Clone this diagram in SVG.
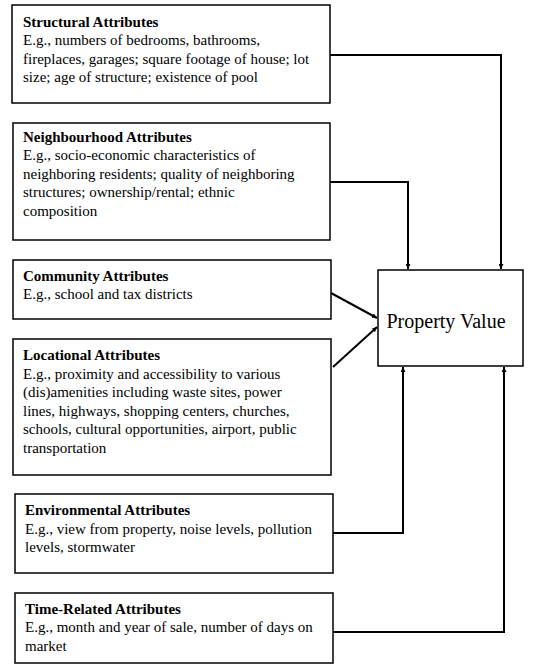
<svg xmlns="http://www.w3.org/2000/svg" width="540" height="668" viewBox="0 0 540 668">
<defs>
<marker id="ah" viewBox="0 0 10 10" refX="10" refY="5" markerWidth="5" markerHeight="5" orient="auto" markerUnits="userSpaceOnUse">
<path d="M0,0 L10,5 L0,10 z" fill="#000"/>
</marker>
<style>
.box{fill:#fff;stroke:#000;stroke-width:1.5}
.t{font-family:'Liberation Serif','DejaVu Serif',serif;font-size:15px;fill:#000}
.b{font-weight:bold}
.pv{font-family:'Liberation Serif','DejaVu Serif',serif;font-size:20px;fill:#000}
.c{fill:none;stroke:#000;stroke-width:2;marker-end:url(#ah)}
</style>
</defs>
<rect width="540" height="668" fill="#fff"/>
<g id="structural">
<rect class="box" x="12" y="5" width="318" height="98"/>
<text class="t b" x="23" y="27">Structural Attributes</text>
<text class="t" x="23" y="45">E.g., numbers of bedrooms, bathrooms,</text>
<text class="t" x="23" y="64">fireplaces, garages; square footage of house; lot</text>
<text class="t" x="23" y="82">size; age of structure; existence of pool</text>
</g>
<g id="neighbourhood">
<rect class="box" x="13" y="123" width="317" height="117"/>
<text class="t b" x="23" y="142">Neighbourhood Attributes</text>
<text class="t" x="23" y="160">E.g., socio-economic characteristics of</text>
<text class="t" x="23" y="179">neighboring residents; quality of neighboring</text>
<text class="t" x="23" y="197">structures; ownership/rental; ethnic</text>
<text class="t" x="23" y="216">composition</text>
</g>
<g id="community">
<rect class="box" x="13" y="260" width="318" height="59"/>
<text class="t b" x="23" y="281">Community Attributes</text>
<text class="t" x="23" y="299">E.g., school and tax districts</text>
</g>
<g id="locational">
<rect class="box" x="13" y="339" width="318" height="136"/>
<text class="t b" x="23" y="360">Locational Attributes</text>
<text class="t" x="23" y="379">E.g., proximity and accessibility to various</text>
<text class="t" x="23" y="397">(dis)amenities including waste sites, power</text>
<text class="t" x="23" y="416">lines, highways, shopping centers, churches,</text>
<text class="t" x="23" y="434">schools, cultural opportunities, airport, public</text>
<text class="t" x="23" y="453">transportation</text>
</g>
<g id="environmental">
<rect class="box" x="15" y="494" width="318" height="79"/>
<text class="t b" x="25" y="515">Environmental Attributes</text>
<text class="t" x="25" y="534">E.g., view from property, noise levels, pollution</text>
<text class="t" x="25" y="552">levels, stormwater</text>
</g>
<g id="time">
<rect class="box" x="15" y="593" width="318" height="70"/>
<text class="t b" x="25" y="614">Time-Related Attributes</text>
<text class="t" x="25" y="632">E.g., month and year of sale, number of days on</text>
<text class="t" x="25" y="651">market</text>
</g>
<g id="property">
<rect class="box" x="378" y="270" width="145" height="96"/>
<text class="pv" x="446" y="328" text-anchor="middle">Property Value</text>
</g>
<g id="connectors">
<path class="c" d="M330,55 H501 V269"/>
<path class="c" d="M330,182 H408 V269"/>
<path class="c" d="M331,293 L377,318"/>
<path class="c" d="M333,367 L377,327"/>
<path class="c" d="M333,533 H403 V367"/>
<path class="c" d="M333,632 H504 V367"/>
</g>
</svg>
